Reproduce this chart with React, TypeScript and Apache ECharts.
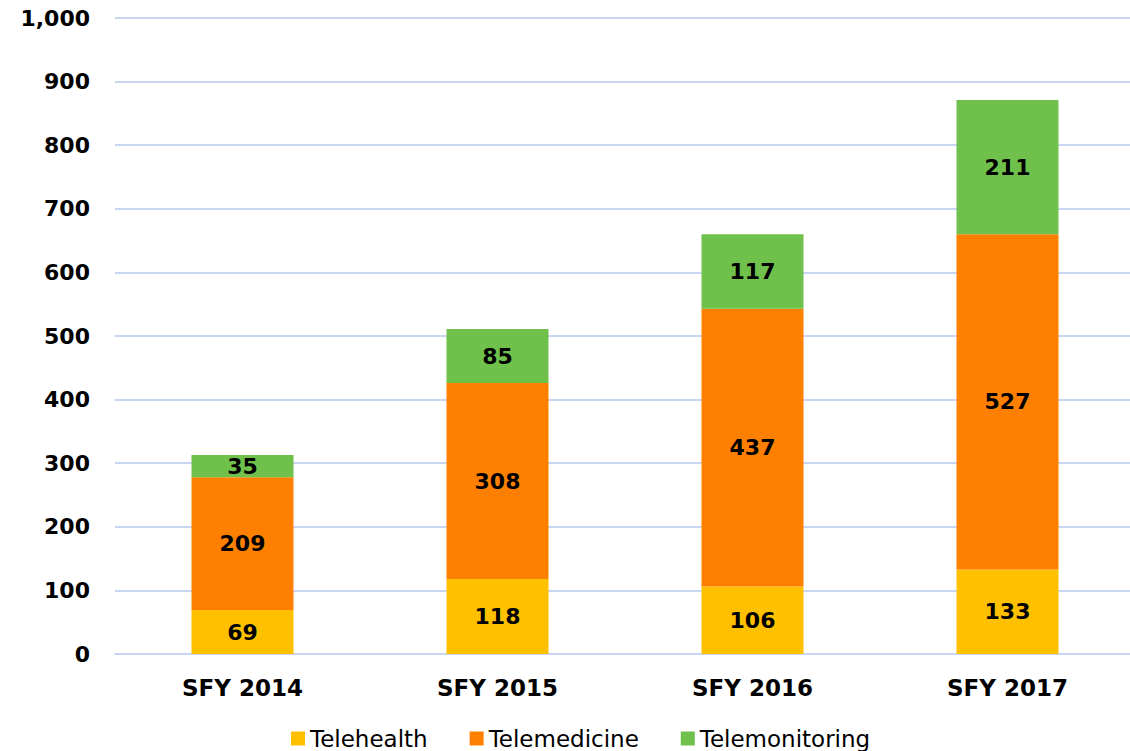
import React, { useEffect, useRef } from "react";
import * as echarts from "echarts";

const categories = ["SFY 2014", "SFY 2015", "SFY 2016", "SFY 2017"];
const telehealth = [69, 118, 106, 133];
const telemedicine = [209, 308, 437, 527];
const telemonitoring = [35, 85, 117, 211];
const yTicks = { min: 0, max: 1000, interval: 100 };

const FONT = "DejaVu Sans";

export default function App() {
  const ref = useRef<HTMLDivElement>(null);
  useEffect(() => {
    const chart = echarts.init(ref.current!, null, { renderer: "svg" });
    const label = {
      show: true,
      position: "inside",
      color: "#000",
      fontFamily: FONT,
      fontWeight: "bold",
      fontSize: 22,
    };
    const mk = (name: string, data: number[], color: string) => ({
      name,
      type: "bar",
      stack: "total",
      data,
      barWidth: 102,
      itemStyle: { color },
      label,
    });
    chart.setOption({
      animation: false,
      grid: { left: 115, right: -5, top: 18, bottom: 97, containLabel: false, outerBoundsMode: "none" },
      legend: {
        top: 722,
        left: 286,
        padding: 5,
        itemWidth: 14,
        itemHeight: 14,
        itemGap: 42,
        icon: "rect",
        textStyle: { fontFamily: FONT, fontSize: 23, lineHeight: 22, color: "#000" },
        data: ["Telehealth", "Telemedicine", "Telemonitoring"],
      },
      xAxis: {
        type: "category",
        data: categories,
        axisTick: { show: false },
        axisLine: { show: true, lineStyle: { color: "#C8D6F4", width: 2 } },
        axisLabel: { color: "#000", fontFamily: FONT, fontWeight: "bold", fontSize: 23, margin: 22 },
      },
      yAxis: {
        type: "value",
        min: yTicks.min,
        max: yTicks.max,
        interval: yTicks.interval,
        axisLine: { show: false },
        axisTick: { show: false },
        splitLine: { lineStyle: { color: "#C8D6F4", width: 2 } },
        axisLabel: {
          color: "#000",
          fontFamily: FONT,
          fontWeight: "bold",
          fontSize: 22,
          margin: 25,
          formatter: (v: number) => v.toLocaleString("en-US"),
        },
      },
      series: [
        mk("Telehealth", telehealth, "#FFC000"),
        mk("Telemedicine", telemedicine, "#FF8000"),
        mk("Telemonitoring", telemonitoring, "#70C04C"),
      ],
    });
    return () => chart.dispose();
  }, []);
  return (
    <div
      ref={ref}
      style={{ position: "fixed", left: 0, top: 0, width: 1130, height: 751, background: "#fff" }}
    />
  );
}
